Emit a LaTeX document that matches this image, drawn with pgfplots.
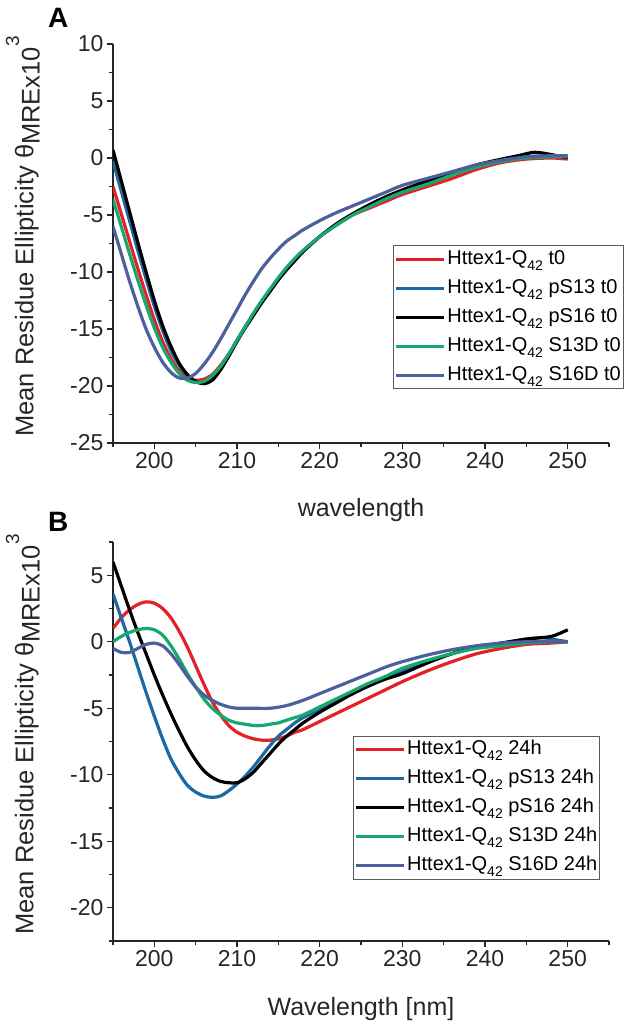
\documentclass[border=0pt]{standalone}
\usepackage{fontspec}
\setmainfont{Liberation Sans}
\usepackage{pgfplots}
\pgfplotsset{compat=1.18}

\definecolor{cred}{RGB}{228,32,40}
\definecolor{cblue}{RGB}{28,104,162}
\definecolor{cgreen}{RGB}{22,168,108}
\definecolor{cslate}{RGB}{76,96,156}
\definecolor{cframe}{RGB}{90,90,90}

\newcommand{\sub}[1]{\raisebox{-0.3em}{\fontsize{14}{14}\selectfont #1}}

\pgfplotsset{
  cdstyle/.style={
    scale only axis, width=496pt, height=399pt,
    xmin=195, xmax=255,
    axis lines*=left,
    axis line style={line width=1.2pt, black!85},
    xtick={200,210,...,250}, minor xtick={195,205,...,255},
    tick align=outside, major tick length=6pt, minor tick length=4pt,
    every tick/.style={line width=1.2pt, black!85},
    /pgf/number format/assume math mode=true,
    ticklabel style={font=\fontsize{23}{23}\selectfont, text=black!85},
    label style={font=\fontsize{25}{25}\selectfont, text=black!85},
    ylabel style={at={(axis description cs:-0.147,0.5175)}, anchor=south, inner sep=0pt, font=\fontsize{25.5}{25.5}\selectfont},
    xlabel style={at={(axis description cs:0.5,0)}, anchor=base, yshift=-74pt, inner sep=0pt},
    ylabel={Mean Residue Ellipticity θ\raisebox{-0.25em}{MREx10}\raisebox{0.55em}{\fontsize{19}{19}\selectfont 3}},
    legend cell align=left,
    legend image code/.code={\draw[##1, line width=3.2pt] (0pt,0pt) -- (48pt,0pt);},
    legend style={draw=cframe, line width=0.9pt, font=\fontsize{20}{24}\selectfont,
      inner xsep=1pt, inner ysep=2pt, row sep=6pt,
      nodes={inner sep=1.5pt, text height=15pt, text depth=5pt}},
    every axis plot/.append style={line width=3.2pt, smooth, tension=0.5},
  }
}

\begin{document}
\begin{tikzpicture}
\useasboundingbox (0,0) rectangle (633pt,1022pt);

% ---------------- Panel A ----------------
\begin{axis}[cdstyle, at={(113pt,579pt)}, anchor=south west,
  ymin=-25, ymax=10,
  ytick={-25,-20,...,10}, minor ytick={-22.5,-17.5,...,7.5},
  xlabel={wavelength},
  legend style={at={(rel axis cs:0.565,0.495)}, anchor=north west},
]
\addplot[cred] coordinates {
(195,-2.5)(196,-4.9)(197,-7.3)(198,-9.7)(199,-12.0)(200,-14.2)(201,-16.1)(202,-17.6)(203,-18.7)(204,-19.3)(205,-19.5)(206,-19.4)(207,-19.0)(208,-18.2)(209,-17.2)(210,-16.0)(211,-14.8)(212,-13.7)(213,-12.6)(214,-11.6)(215,-10.6)(216,-9.8)(217,-9.0)(218,-8.2)(220,-6.9)(222,-5.9)(224,-5.0)(226,-4.4)(228,-3.8)(230,-3.2)(233,-2.5)(236,-1.8)(239,-1.0)(242,-0.4)(245,-0.1)(248,0.0)(250,-0.1)};
\addlegendentry{Httex1-Q\sub{42} t0}
\addplot[cblue] coordinates {
(195,-0.3)(196,-2.9)(197,-5.5)(198,-8.1)(199,-10.6)(200,-13.0)(201,-15.1)(202,-16.9)(203,-18.2)(204,-19.1)(205,-19.6)(206,-19.7)(207,-19.4)(208,-18.5)(209,-17.3)(210,-16.0)(211,-14.8)(212,-13.7)(213,-12.6)(214,-11.6)(215,-10.6)(216,-9.7)(217,-8.9)(218,-8.2)(220,-6.9)(222,-5.8)(224,-4.9)(226,-4.2)(228,-3.6)(230,-3.0)(233,-2.2)(236,-1.4)(239,-0.7)(242,-0.2)(245,0.1)(248,0.2)(250,0.2)};
\addlegendentry{Httex1-Q\sub{42} pS13 t0}
\addplot[black] coordinates {
(195,0.7)(196,-2.0)(197,-4.7)(198,-7.4)(199,-10.0)(200,-12.5)(201,-14.7)(202,-16.5)(203,-18.0)(204,-19.0)(205,-19.6)(206,-19.8)(207,-19.5)(208,-18.6)(209,-17.4)(210,-16.1)(211,-14.9)(212,-13.8)(213,-12.7)(214,-11.7)(215,-10.7)(216,-9.8)(217,-9.0)(218,-8.2)(220,-6.9)(222,-5.8)(224,-4.9)(226,-4.1)(228,-3.4)(230,-2.8)(233,-2.0)(236,-1.3)(239,-0.6)(242,-0.1)(244,0.2)(246,0.5)(248,0.3)(250,0.0)};
\addlegendentry{Httex1-Q\sub{42} pS16 t0}
\addplot[cgreen] coordinates {
(195,-3.6)(196,-6.0)(197,-8.4)(198,-10.7)(199,-12.9)(200,-14.9)(201,-16.6)(202,-17.9)(203,-18.9)(204,-19.5)(205,-19.7)(206,-19.6)(207,-19.1)(208,-18.3)(209,-17.2)(210,-16.0)(211,-14.8)(212,-13.6)(213,-12.5)(214,-11.5)(215,-10.5)(216,-9.6)(217,-8.8)(218,-8.1)(220,-6.9)(222,-5.9)(224,-5.0)(226,-4.3)(228,-3.6)(230,-3.0)(233,-2.3)(236,-1.5)(239,-0.8)(242,-0.3)(245,0.0)(248,0.1)(250,0.1)};
\addlegendentry{Httex1-Q\sub{42} S13D t0}
\addplot[cslate] coordinates {
(195,-6.0)(196,-8.4)(197,-10.8)(198,-13.0)(199,-15.0)(200,-16.6)(201,-17.9)(202,-18.8)(203,-19.3)(204,-19.3)(205,-18.9)(206,-18.1)(207,-17.1)(208,-15.9)(209,-14.6)(210,-13.3)(211,-12.0)(212,-10.8)(213,-9.7)(214,-8.8)(215,-8.0)(216,-7.3)(217,-6.8)(218,-6.3)(220,-5.5)(222,-4.8)(224,-4.2)(226,-3.6)(228,-3.0)(230,-2.4)(233,-1.8)(236,-1.2)(239,-0.6)(242,-0.2)(245,0.1)(248,0.2)(250,0.2)};
\addlegendentry{Httex1-Q\sub{42} S16D t0}
\end{axis}

% ---------------- Panel B ----------------
\begin{axis}[cdstyle, at={(113pt,81pt)}, anchor=south west,
  ymin=-22.5, ymax=7.5,
  ytick={-20,-15,...,5}, minor ytick={-22.5,-17.5,...,7.5},
  xlabel={Wavelength [nm]},
  legend style={at={(rel axis cs:0.484,0.514)}, anchor=north west},
]
\addplot[cred] coordinates {
(195,1.0)(196,1.8)(197,2.4)(198,2.8)(199,3.0)(200,2.9)(201,2.5)(202,1.8)(203,0.8)(204,-0.4)(205,-1.8)(206,-3.2)(207,-4.5)(208,-5.5)(209,-6.3)(210,-6.8)(211,-7.1)(212,-7.3)(213,-7.4)(214,-7.4)(215,-7.3)(216,-7.1)(217,-6.8)(218,-6.6)(220,-6.0)(222,-5.4)(224,-4.8)(226,-4.2)(228,-3.6)(230,-3.0)(233,-2.2)(236,-1.5)(239,-0.9)(242,-0.5)(245,-0.2)(248,-0.1)(250,0.0)};
\addlegendentry{Httex1-Q\sub{42} 24h}
\addplot[cblue] coordinates {
(195,3.6)(196,1.8)(197,0.0)(198,-1.9)(199,-3.8)(200,-5.6)(201,-7.3)(202,-8.8)(203,-9.9)(204,-10.8)(205,-11.3)(206,-11.6)(207,-11.7)(208,-11.6)(209,-11.2)(210,-10.7)(211,-10.1)(212,-9.4)(213,-8.6)(214,-7.8)(215,-7.1)(216,-6.6)(217,-6.1)(218,-5.7)(220,-5.1)(222,-4.5)(224,-3.9)(226,-3.3)(228,-2.7)(230,-2.2)(233,-1.5)(236,-0.9)(239,-0.4)(242,-0.1)(245,0.2)(247,0.3)(249,0.1)(250,0.0)};
\addlegendentry{Httex1-Q\sub{42} pS13 24h}
\addplot[black] coordinates {
(195,6.0)(196,4.2)(197,2.4)(198,0.7)(199,-0.9)(200,-2.5)(201,-4.0)(202,-5.4)(203,-6.7)(204,-7.9)(205,-8.9)(206,-9.7)(207,-10.2)(208,-10.5)(209,-10.6)(210,-10.6)(211,-10.3)(212,-9.8)(213,-9.1)(214,-8.4)(215,-7.7)(216,-7.1)(217,-6.6)(218,-6.1)(220,-5.3)(222,-4.6)(224,-3.9)(226,-3.3)(228,-2.8)(230,-2.4)(233,-1.6)(236,-0.9)(239,-0.4)(242,-0.1)(245,0.2)(248,0.4)(250,0.9)};
\addlegendentry{Httex1-Q\sub{42} pS16 24h}
\addplot[cgreen] coordinates {
(195,0.0)(196,0.4)(197,0.7)(198,0.9)(199,1.0)(200,0.9)(201,0.5)(202,-0.3)(203,-1.3)(204,-2.4)(205,-3.4)(206,-4.3)(207,-5.0)(208,-5.5)(209,-5.9)(210,-6.1)(211,-6.2)(212,-6.3)(213,-6.3)(214,-6.2)(215,-6.1)(216,-5.9)(217,-5.7)(218,-5.5)(220,-4.9)(222,-4.3)(224,-3.7)(226,-3.1)(228,-2.6)(230,-2.0)(233,-1.4)(236,-0.9)(239,-0.5)(242,-0.3)(245,-0.1)(248,0.0)(250,0.0)};
\addlegendentry{Httex1-Q\sub{42} S13D 24h}
\addplot[cslate] coordinates {
(195,-0.5)(196,-0.8)(197,-0.8)(198,-0.5)(199,-0.2)(200,-0.1)(201,-0.3)(202,-0.9)(203,-1.7)(204,-2.6)(205,-3.4)(206,-4.0)(207,-4.4)(208,-4.7)(209,-4.9)(210,-5.0)(212,-5.0)(214,-5.0)(216,-4.8)(218,-4.4)(220,-3.9)(222,-3.4)(224,-2.9)(226,-2.4)(228,-1.9)(230,-1.5)(233,-1.0)(236,-0.6)(239,-0.3)(242,-0.1)(245,0.0)(248,0.0)(250,0.0)};
\addlegendentry{Httex1-Q\sub{42} S16D 24h}
\end{axis}

\node[anchor=base west, inner sep=0pt, font=\fontsize{28}{28}\selectfont\bfseries] at (48pt,994pt) {A};
\node[anchor=base west, inner sep=0pt, font=\fontsize{28}{28}\selectfont\bfseries] at (48pt,490pt) {B};
\end{tikzpicture}
\end{document}
